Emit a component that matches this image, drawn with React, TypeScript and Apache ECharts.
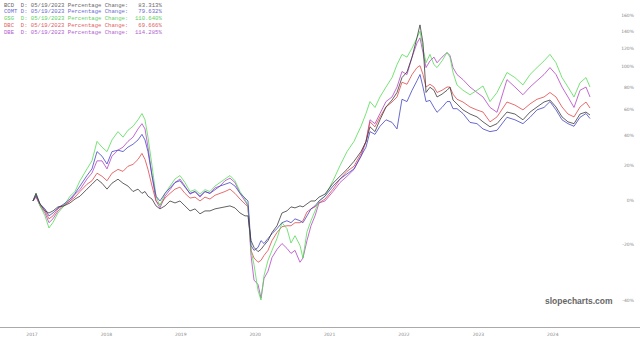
import React, { useEffect, useRef } from 'react';
import * as echarts from 'echarts';

// x positions (decimal years)
const timeline = [
  2017.013, 2017.054, 2017.108, 2017.175, 2017.228, 2017.282, 2017.349, 2017.43, 2017.511, 2017.578,
  2017.645, 2017.739, 2017.806, 2017.874, 2017.941, 2018.008, 2018.075, 2018.156, 2018.223, 2018.29,
  2018.358, 2018.425, 2018.478, 2018.519, 2018.559, 2018.613, 2018.667, 2018.72, 2018.788, 2018.855,
  2018.922, 2018.989, 2019.056, 2019.124, 2019.191, 2019.258, 2019.325, 2019.392, 2019.46, 2019.527,
  2019.594, 2019.661, 2019.728, 2019.796, 2019.863, 2019.903, 2019.944, 2019.984, 2020.038, 2020.078,
  2020.118, 2020.172, 2020.226, 2020.293, 2020.36, 2020.427, 2020.481, 2020.535, 2020.602, 2020.642,
  2020.696, 2020.75, 2020.804, 2020.858, 2020.938, 2021.046, 2021.14, 2021.234, 2021.328, 2021.422,
  2021.489, 2021.543, 2021.61, 2021.677, 2021.758, 2021.839, 2021.906, 2021.973, 2022.04, 2022.108,
  2022.175, 2022.215, 2022.255, 2022.296, 2022.349, 2022.403, 2022.444, 2022.511, 2022.578, 2022.618,
  2022.659, 2022.712, 2022.793, 2022.887, 2022.981, 2023.062, 2023.156, 2023.25, 2023.384, 2023.491,
  2023.599, 2023.694, 2023.788, 2023.882, 2023.962, 2024.043, 2024.124, 2024.204, 2024.285, 2024.366,
  2024.446, 2024.5,
];

// percentage change series
const bcd = [
  0, 4, -1.5, -5, -6, -5, -3, -2.5, -1, 1,
  2.5, 6.3, 9, 11.9, 9.6, 6.3, 9.6, 11.9, 9.6, 8,
  5, 6.3, 4, 5, 2.5, 1, -2.5, -4, -2.5, 0,
  -1, 0, -2.5, -5, -4, -6.4, -5, -5, -4, -3.5,
  -3, -2.5, -3.5, -6, -7.4, -7.4, -18.5, -21.3, -23, -22.1,
  -20.5, -18.5, -15, -12, -6, -5, -3, -3.5, -2.5, -3,
  -1.5, 0, 0, 2, 3.6, 9.6, 13.6, 17.7, 22.7, 29,
  35.8, 46.6, 43, 52, 62.4, 68.3, 75, 89, 94.5, 110,
  132.5, 148, 126, 75, 79.8, 77, 71, 73.5, 77, 79.8,
  68.3, 65, 60, 56.6, 54.3, 50.4, 46.6, 49, 58.2, 56.6,
  52, 58.2, 62.4, 66.6, 68.3, 62.4, 54.3, 50.4, 49, 56.6,
  58.2, 55.8,
];
const comt = [
  0, 3, -1.5, -4, -7.4, -6, -3.5, -1.5, 1, 4,
  8, 14, 18, 29, 26, 21, 29, 30, 29, 32,
  34, 37, 41, 37, 29, 14, 2.5, 0, 4, 7,
  10, 11, 7.4, 4, 5, 2.5, 5, 4, 6, 8,
  9, 10, 8, 4, 1.5, 0, -20.5, -22.5, -21.3, -18.5,
  -19.7, -17.6, -15.5, -13.3, -10.6, -9.7, -10.6, -8.8, -9.7, -10.6,
  -7.4, -4, -2.5, 0, 2.5, 8, 12, 15, 18, 26,
  32, 43, 41, 47, 52, 50, 45, 69, 67, 77,
  86, 92, 80, 67, 68, 62, 58, 62, 67, 67,
  61, 61, 57, 50, 49, 45, 43, 44, 54, 52,
  49, 54, 60, 62, 67, 60, 52, 49, 47, 54,
  57, 53,
];
const gsg = [
  0, 4, -2.5, -7.4, -13, -10.5, -6, -2.5, 2.5, 5,
  11, 18, 23, 36, 32, 29, 37, 43, 39, 44,
  47, 52, 57, 52, 39, 20, 2.5, -2.5, 4, 8,
  12, 14, 10, 5, 6, 3.6, 6, 5, 8, 10,
  12, 14, 11, 5, 1, -2.5, -22.5, -28, -37, -40,
  -32, -26.4, -22.5, -17.6, -10.6, -13.3, -19.5, -16.4, -20.5, -25.5,
  -14.7, -9.7, -5, 0, 2.5, 11, 20, 29, 36, 47,
  57, 67, 62, 71, 80, 89, 102, 113, 110, 120,
  132, 140, 120, 104, 113, 102, 99, 106, 115, 110,
  94, 82, 77, 73, 77, 81, 67, 75, 94, 89,
  82, 92, 99, 106, 113, 104, 89, 80, 71, 84,
  89, 80,
];
const dbc = [
  0, 2, -2, -5, -8.8, -7.4, -4, -2, 0, 2,
  5, 9, 11, 15.4, 13.6, 11, 15.4, 17.7, 16.5, 19.6,
  20.8, 23.9, 27.8, 23.9, 17.7, 8, 0, -2, 1.5, 4,
  6.3, 7.4, 4, 1.5, 2, 0, 2, 1, 3, 4,
  5, 6.3, 4, 1, -1.5, -3, -22.5, -25.5, -27.1, -26.4,
  -24.5, -22.5, -18.5, -15, -12.4, -12, -12, -10.6, -10.6, -9.7,
  -5.5, -4, -3, -1, 1, 6.3, 11.9, 16.5, 19.6, 27.8,
  35.8, 50.4, 46.6, 54.3, 62.4, 66.6, 71, 84.5, 82.6, 92,
  99, 101, 92, 80, 82.6, 80, 75, 77, 80, 80,
  73.5, 69, 66.6, 62.4, 59.9, 58.2, 50.4, 54.3, 66.6, 64,
  60, 65, 69, 71, 75, 71, 62.4, 56.6, 54.3, 62.4,
  66.6, 61.5,
];
const dbe = [
  0, 2.5, -2.5, -6, -10.6, -8.8, -5, -2.5, 0, 3.6,
  6, 12, 15.5, 23, 23, 18, 26, 30, 32, 36,
  39, 45, 49, 45, 32, 14, 0, -3.5, 2.5, 6,
  10, 12, 8, 3.6, 5, 2, 5, 4, 7, 8,
  11, 12.5, 10, 4, 0, -2.5, -24.5, -33.5, -35, -39.4,
  -33, -30.4, -25.3, -22.1, -19.7, -21.7, -23.7, -22.5, -27.1, -25.5,
  -18.5, -12, -7.4, -1, 0, 5, 10, 13.6, 17.7, 26,
  36, 52, 49, 57, 67, 71, 80, 95, 92, 110,
  126, 132, 115, 99, 106, 110, 104, 110, 115, 112,
  99, 92, 87, 80, 75, 71, 62, 58, 87, 80,
  73, 80, 86, 92, 99, 92, 80, 71, 62, 77,
  80, 71,
];

const tickers = ['BCD', 'COMT', 'GSG', 'DBC', 'DBE'];
const changes = ['83.313%', '79.632%', '110.640%', '69.666%', '114.285%'];
const asOfDate = '05/19/2023';
const yTickLabels = [-40, -20, 0, 20, 40, 60, 80, 100, 120, 140, 160];
const xTickLabels = [2017, 2018, 2019, 2020, 2021, 2022, 2023, 2024];

const lineColors = ['#3a3a3a', '#4444c4', '#55dc55', '#e04848', '#b444c4'];
const legendColors = ['#666666', '#6a6ad0', '#60d060', '#e06060', '#b060d0'];

// the chart's vertical scale is logarithmic: growth factors are plotted in natural-log space
const toLog = (pct: number) => Math.log(1 + pct / 100);
const fromLog = (v: number) => (Math.exp(v) - 1) * 100;
const Y_TOP = 182;

export default function App() {
  const ref = useRef<HTMLDivElement>(null);
  useEffect(() => {
    document.body.style.margin = '0';
    const chart = echarts.init(ref.current!, null, { renderer: 'svg' });
    const all = [bcd, comt, gsg, dbc, dbe];
    const order = [4, 3, 2, 1, 0];
    const series = order.map((i) => ({
      name: tickers[i],
      type: 'line',
      showSymbol: false,
      symbol: 'none',
      lineStyle: { width: 0.8, color: lineColors[i] },
      itemStyle: { color: lineColors[i] },
      data: timeline.map((t, k) => [t, toLog(all[i][k])]),
    }));
    const legendTexts = tickers.map((t, i) => ({
      type: 'text',
      left: 4,
      top: 2 + i * 6.8,
      style: {
        text: `${t.padEnd(4, ' ')} D: ${asOfDate} Percentage Change: ${changes[i].padStart(9, ' ')}`,
        fill: legendColors[i],
        font: '5.6px "Liberation Mono", "DejaVu Sans Mono", monospace',
      },
    }));
    chart.setOption({
      animation: false,
      backgroundColor: '#ffffff',
      grid: { left: 0, right: 0, top: 0, bottom: 15 },
      xAxis: {
        type: 'value',
        min: 2016.57,
        max: 2025.172,
        splitLine: { show: false },
        axisTick: { show: false },
        axisLine: { onZero: false, lineStyle: { color: '#aaaaaa', width: 1 } },
        axisLabel: {
          customValues: xTickLabels,
          formatter: (v: number) => String(Math.round(v)),
          color: '#888888',
          fontSize: 4.5,
          margin: 5,
          fontFamily: 'DejaVu Sans',
        },
      },
      yAxis: {
        type: 'value',
        min: toLog(-47.8),
        max: toLog(Y_TOP),
        position: 'right',
        splitLine: { show: false },
        axisLine: { show: false },
        axisTick: { show: false },
        axisLabel: {
          inside: true,
          showMaxLabel: true,
          showMinLabel: true,
          hideOverlap: false,
          customValues: [...yTickLabels, Y_TOP - 1].map(toLog),
          formatter: (v: number) => {
            const p = Math.round(fromLog(v));
            return yTickLabels.includes(p) ? `${p}%` : '';
          },
          color: '#888888',
          fontSize: 4.5,
          margin: 6,
          fontFamily: 'DejaVu Sans',
        },
      },
      graphic: [
        ...legendTexts,
        {
          type: 'text',
          left: 545,
          top: 296,
          style: {
            text: 'slopecharts.com',
            fill: '#666666',
            font: 'bold 8.5px "Liberation Sans", Arial, sans-serif',
          },
        },
      ],
      series,
    });
    return () => chart.dispose();
  }, []);
  return <div ref={ref} style={{ width: 640, height: 342 }} />;
}
